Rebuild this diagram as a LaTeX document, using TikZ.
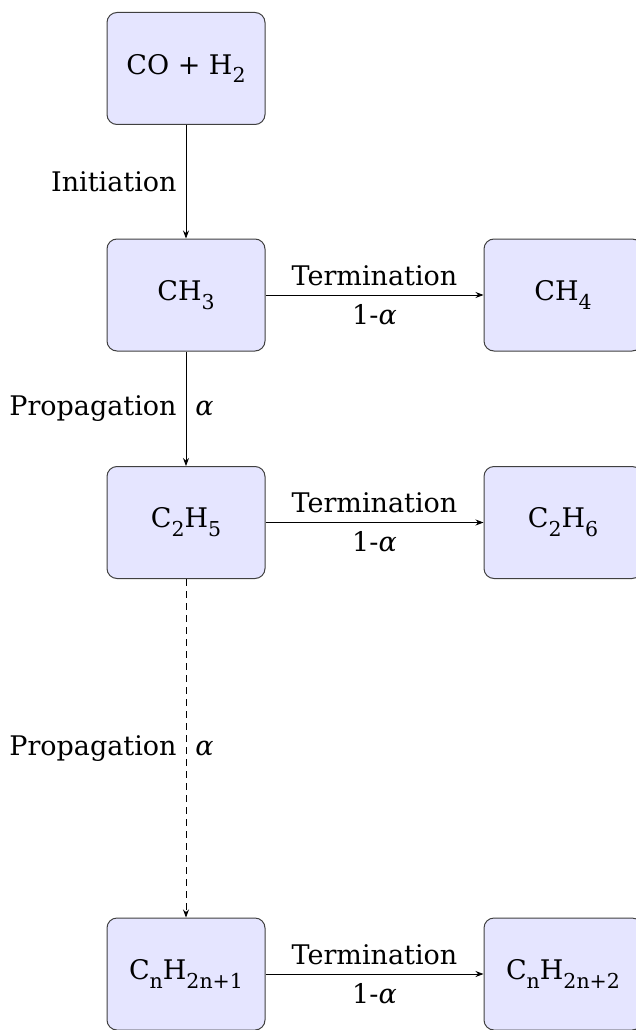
\documentclass[tikz,border=0pt]{standalone}
\usepackage{fontspec}
\setmainfont{DejaVu Serif}
\usetikzlibrary{arrows.meta}
\newcommand{\alp}{\textit{α}}
\newcommand{\sbs}[1]{\raisebox{-0.33em}{\fontsize{20.5}{25}\selectfont #1}}
\tikzset{
  box/.style={draw=black!75, fill=blue!10, rounded corners=10pt, line width=1pt,
    minimum width=158pt, minimum height=112pt, align=center},
  arr/.style={line width=0.9pt, -{Stealth[length=8pt,width=6pt]}},
  lbl/.style={inner sep=9pt},
  above lbl/.style={midway,above,inner sep=9pt},
  below lbl/.style={midway,below,inner sep=9pt},
}
\begin{document}
\begin{tikzpicture}[x=1pt,y=-1pt,font=\fontsize{27}{33}\selectfont]
\useasboundingbox (0,0) rectangle (636,1030);
\node[box] (co) at (186,68.5) {CO + H\sbs{2}};
\node[box] (ch3) at (186,295) {CH\sbs{3}};
\node[box] (ch4) at (563,295) {CH\sbs{4}};
\node[box] (c2h5) at (186,522.5) {C\sbs{2}H\sbs{5}};
\node[box] (c2h6) at (563,522.5) {C\sbs{2}H\sbs{6}};
\node[box] (cn) at (186,974) {C\sbs{n}H\sbs{2n+1}};
\node[box] (cn2) at (563,974) {C\sbs{n}H\sbs{2n+2}};
\draw[arr] (co) -- (ch3) node[midway,left,lbl] {Initiation};
\draw[arr] (ch3) -- (ch4) node[above lbl] {Termination} node[below lbl] {1-\alp};
\draw[arr] (ch3) -- (c2h5) node[midway,left,lbl] {Propagation} node[midway,right,lbl] {\alp};
\draw[arr] (c2h5) -- (c2h6) node[above lbl] {Termination} node[below lbl] {1-\alp};
\draw[arr,dash pattern=on 7pt off 5pt] (c2h5) -- (cn) node[midway,left,lbl] {Propagation} node[midway,right,lbl] {\alp};
\draw[arr] (cn) -- (cn2) node[above lbl] {Termination} node[below lbl] {1-\alp};
\end{tikzpicture}
\end{document}
